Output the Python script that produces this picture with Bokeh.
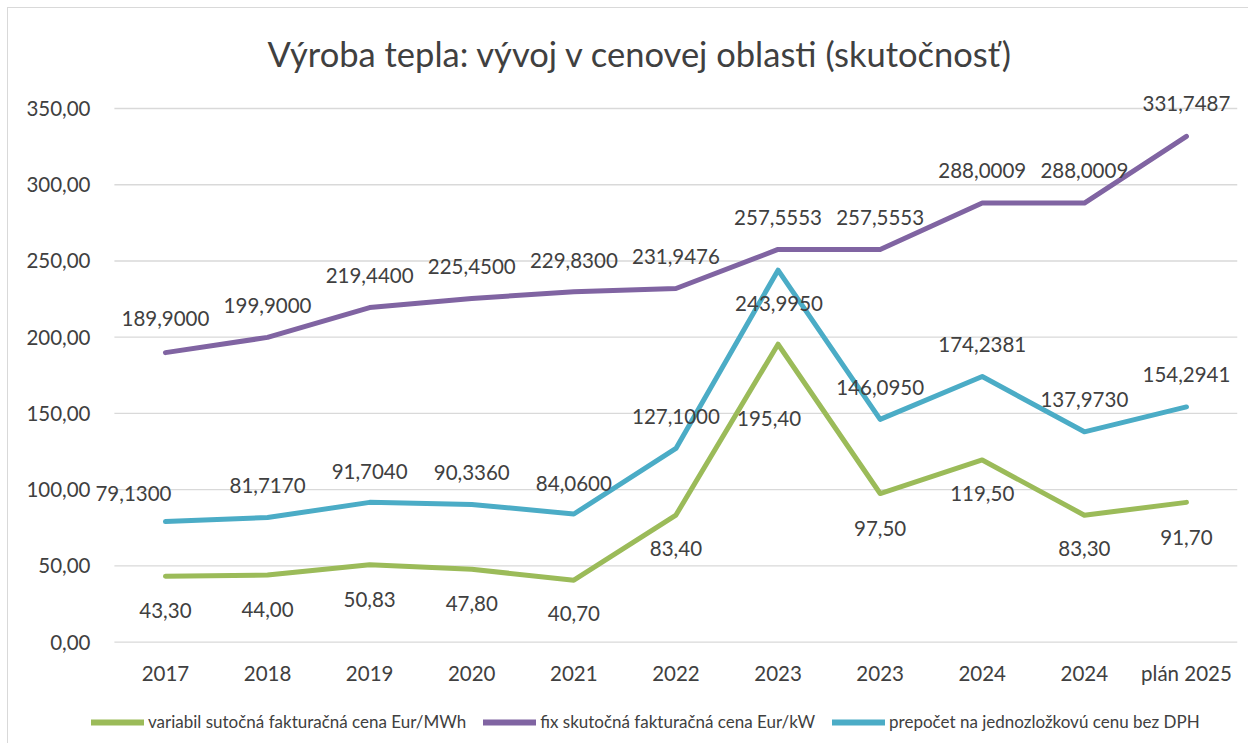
from bokeh.plotting import figure
from bokeh.layouts import column
from bokeh.models import ColumnDataSource, FixedTicker, Legend, LegendItem, Range1d
from bokeh.core.properties import value
from bokeh.embed import file_html
from bokeh.resources import INLINE

# ---------------- data ----------------
categories = ["2017", "2018", "2019", "2020", "2021", "2022", "2023", "2023", "2024", "2024", "plán 2025"]
variabil = [43.30, 44.00, 50.83, 47.80, 40.70, 83.40, 195.40, 97.50, 119.50, 83.30, 91.70]
fix = [189.9000, 199.9000, 219.4400, 225.4500, 229.8300, 231.9476, 257.5553, 257.5553, 288.0009, 288.0009, 331.7487]
prepocet = [79.1300, 81.7170, 91.7040, 90.3360, 84.0600, 127.1000, 243.9950, 146.0950, 174.2381, 137.9730, 154.2941]
series_names = [
    "variabil sutočná fakturačná cena Eur/MWh",
    "fix skutočná fakturačná cena Eur/kW",
    "prepočet na jednozložkovú cenu bez DPH",
]
y_ticks = [0, 50, 100, 150, 200, 250, 300, 350]
y_tick_labels = ["0,00", "50,00", "100,00", "150,00", "200,00", "250,00", "300,00", "350,00"]
title_text = "Výroba tepla: vývoj v cenovej oblasti (skutočnosť)"

# label placement (pixel offsets from each point)
green_dx = [0, 0, 0, 0, 0, 0, -9, 0, 0, 0, 0]
green_dy = [34, 34, 35, 34, 33, 33, 74, 35, 34, 33, 35]
purple_dx = [0] * 11
purple_dy = [-34, -32, -32, -32, -31, -32, -32, -32, -33, -33, -33]
blue_dx = [-32, 0, 0, 0, 0, 0, 1, 0, 0, 0, 0]
blue_dy = [-28, -32, -31, -32, -31, -32, 33, -32, -32, -32, -32]

colors = ["#9BBB59", "#8064A2", "#4BACC6"]
TEXT = "#404040"
GRID = "#d9d9d9"
FONT = "Lato"


def fmt(v, d):
    return f"{v:.{d}f}".replace(".", ",")


n = len(categories)
x_idx = list(range(n))
all_series = [variabil, fix, prepocet]

W = 1241
H1 = 686
p = figure(
    width=W, height=H1,
    output_backend="svg", toolbar_location=None,
    x_range=Range1d(-0.734, n - 0.5),
    y_range=Range1d(-0.85, 367.7),
    min_border_left=82, min_border_right=12,
    min_border_top=73, min_border_bottom=H1 - 635,
)
p.outline_line_color = None
p.background_fill_color = "white"
p.border_fill_color = "white"

# title
p.title.text = title_text
p.title.align = "left"
p.title.offset = 177
p.title.text_font = FONT
p.title.text_font_size = "34.5px"
p.title.text_font_style = "normal"
p.title.text_color = TEXT
p.title.standoff = 15

# axes
p.xaxis.ticker = FixedTicker(ticks=x_idx)
p.xaxis.major_label_overrides = {i: c for i, c in enumerate(categories)}
p.xaxis.major_tick_line_color = None
p.xaxis.major_tick_out = 0
p.xaxis.major_tick_in = 0
p.xaxis.minor_tick_line_color = None
p.xaxis.axis_line_color = None
p.xaxis.major_label_text_font = FONT
p.xaxis.major_label_text_font_size = "20.5px"
p.xaxis.major_label_text_color = TEXT
p.xaxis.major_label_standoff = 17

p.yaxis.ticker = FixedTicker(ticks=y_ticks)
p.yaxis.major_label_overrides = {t: l for t, l in zip(y_ticks, y_tick_labels)}
p.yaxis.major_tick_line_color = None
p.yaxis.major_tick_out = 0
p.yaxis.major_tick_in = 0
p.yaxis.minor_tick_line_color = None
p.yaxis.axis_line_color = None
p.yaxis.major_label_text_font = FONT
p.yaxis.major_label_text_font_size = "20.5px"
p.yaxis.major_label_text_color = TEXT
p.yaxis.major_label_standoff = 0

p.xgrid.visible = False
p.ygrid.visible = False

# horizontal gridlines spanning the category band
p.segment(x0=[-0.5] * len(y_ticks), x1=[n - 0.5] * len(y_ticks), y0=y_ticks, y1=y_ticks,
          line_color=GRID, line_width=1.3)

# lines
for vals, col in zip(all_series, colors):
    p.line(x_idx, vals, line_color=col, line_width=5, line_cap="round", line_join="round")

# labels
for vals, dec, dx, dy in [
    (variabil, 2, green_dx, green_dy),
    (fix, 4, purple_dx, purple_dy),
    (prepocet, 4, blue_dx, blue_dy),
]:
    src = ColumnDataSource(dict(
        x=x_idx, y=vals, label=[fmt(v, dec) for v in vals], dx=dx, dy=dy,
    ))
    p.text(x="x", y="y", text="label", x_offset="dx", y_offset="dy", source=src,
           text_font=value(FONT), text_font_size="20.5px", text_color=TEXT,
           text_align="center", text_baseline="middle")

# legend strip below the chart (its y range keeps the proxy lines out of view)
H2 = 50
lf = figure(
    width=W, height=H2, output_backend="svg", toolbar_location=None, title=None,
    x_range=Range1d(-0.734, n - 0.5), y_range=Range1d(-3, -2),
    min_border=0, x_axis_type=None, y_axis_type=None,
)
lf.outline_line_color = None
lf.background_fill_color = "white"
lf.border_fill_color = "white"
legend_renderers = [
    lf.line(x_idx, vals, line_color=c, line_width=6, line_cap="round")
    for vals, c in zip(all_series, colors)
]
legend = Legend(
    items=[LegendItem(label=nm, renderers=[r]) for nm, r in zip(series_names, legend_renderers)],
    orientation="horizontal",
    location=(1, 12),
    label_text_font=FONT, label_text_font_size="17px", label_text_color=TEXT,
    glyph_width=53, glyph_height=20, label_standoff=4, spacing=17,
    padding=0, margin=0,
    border_line_alpha=0, background_fill_alpha=0,
)
lf.add_layout(legend, "center")

layout = column(p, lf, spacing=0, margin=(8, 0, 0, 8),
                styles={"box-shadow": "-1px -1px 0 0 #d9d9d9"})

open("out.html", "w").write(file_html(layout, INLINE))
